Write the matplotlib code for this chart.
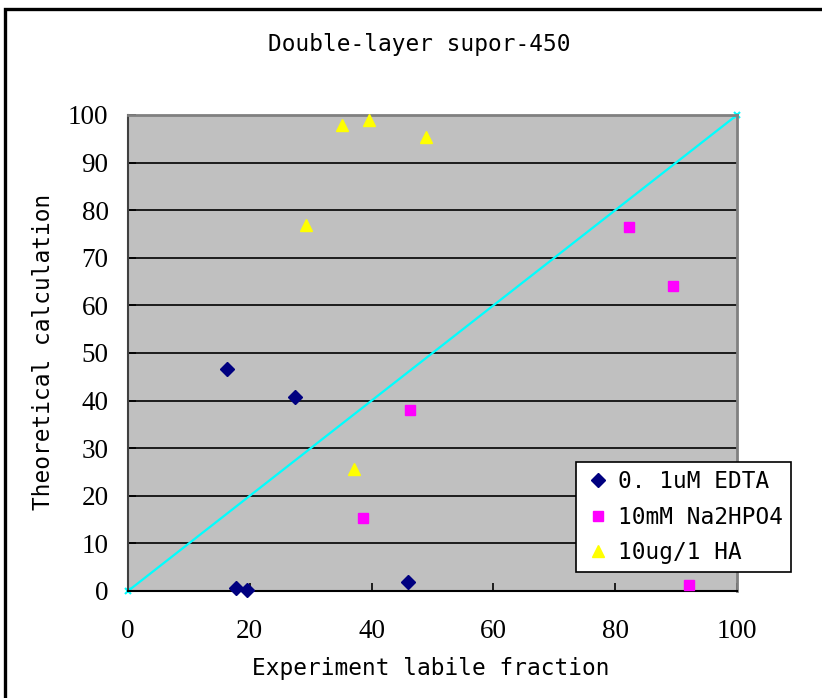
import matplotlib.pyplot as plt
from matplotlib.patches import Rectangle

# data
edta_x = [16.2, 27.5, 17.8, 19.6, 45.9]
edta_y = [46.6, 40.8, 0.6, 0.2, 1.8]

na_x = [82.2, 89.5, 46.3, 38.6, 92.1]
na_y = [76.4, 64.1, 38.0, 15.3, 1.3]

ha_x = [35.1, 39.6, 48.9, 29.2, 37.1]
ha_y = [97.9, 98.9, 95.3, 76.9, 25.6]

line_x = [0, 100]
line_y = [0, 100]

ticks = [0, 20, 40, 60, 80, 100]
yticks = [0, 10, 20, 30, 40, 50, 60, 70, 80, 90, 100]

num_font = 'Liberation Serif'
txt_font = 'DejaVu Sans Mono'
plt.rcParams['font.family'] = num_font

fig = plt.figure(figsize=(8.22, 6.98), dpi=100)
fig.patches.append(Rectangle((5 / 822, -0.1), 1.2, 1 - 9 / 698 + 0.1,
                             transform=fig.transFigure, fill=False,
                             edgecolor='black', linewidth=2.4))

ax = fig.add_axes([128 / 822, 1 - 591 / 698, (737 - 128) / 822, (591 - 115) / 698])
ax.set_facecolor('#c0c0c0')

for v in yticks[1:-1]:
    ax.axhline(v, color='black', linewidth=1.2, zorder=1)

ax.plot(line_x, line_y, color='#00ffff', linewidth=1.6, marker='x',
        markersize=5, markeredgewidth=1.5, zorder=2, clip_on=False)

ax.plot(edta_x, edta_y, linestyle='none', marker='D', markersize=7,
        color='#000080', label='0. 1uM EDTA', zorder=3, clip_on=False)
ax.plot(na_x, na_y, linestyle='none', marker='s', markersize=7.5,
        color='#ff00ff', label='10mM Na2HPO4', zorder=3, clip_on=False)
ax.plot(ha_x, ha_y, linestyle='none', marker='^', markersize=9,
        color='#ffff00', label='10ug/1 HA', zorder=3, clip_on=False)

ax.set_xlim(0, 100)
ax.set_ylim(0, 100)
ax.set_xticks(ticks)
ax.set_yticks(yticks)
ax.tick_params(axis='both', direction='in', length=6, width=1.2,
               labelsize=19.5, color='black')
ax.tick_params(axis='x', pad=20)
ax.tick_params(axis='y', pad=14)

for s in ['top', 'right']:
    ax.spines[s].set_color('#808080')
    ax.spines[s].set_linewidth(2)
ax.spines['left'].set_color('#404040')
ax.spines['left'].set_linewidth(1.5)
ax.spines['bottom'].set_color('black')
ax.spines['bottom'].set_linewidth(1.5)

fig.text(419 / 822, 1 - 45 / 698, 'Double-layer supor-450', ha='center',
         va='center', fontsize=16.4, family=txt_font, fontweight='light')
fig.text(431 / 822, 1 - 669 / 698, 'Experiment labile fraction', ha='center',
         va='center', fontsize=16.4, family=txt_font, fontweight='light')
fig.text(44 / 822, 1 - 352 / 698, 'Theoretical calculation', ha='center',
         va='center', rotation=90, fontsize=16.4, family=txt_font,
         fontweight='light')

leg = ax.legend(loc='upper left', bbox_to_anchor=((576 - 128) / 609, (591 - 462) / 476),
                prop={'family': txt_font, 'size': 16.4}, frameon=True,
                fancybox=False, borderpad=0.35, labelspacing=0.55,
                handletextpad=0.3, handlelength=1.2, borderaxespad=0)
leg.get_frame().set_edgecolor('black')
leg.get_frame().set_linewidth(1.2)
leg.get_frame().set_alpha(1)

fig.savefig('out.png', dpi=100)
